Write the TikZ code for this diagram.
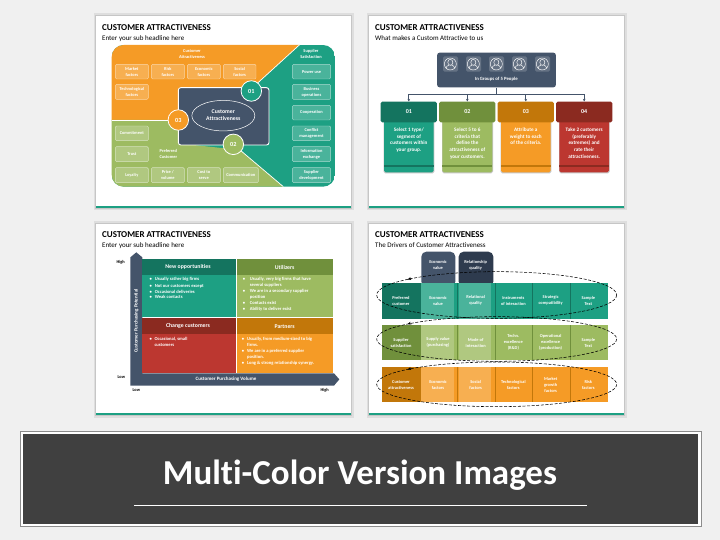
\documentclass[tikz,border=0pt]{standalone}
\usepackage{fontspec}
\setmainfont[Ligatures=NoCommon]{Carlito}
\usetikzlibrary{arrows.meta,calc,shapes.geometric}
\definecolor{bgc}{HTML}{F0F0F0}
\definecolor{shad}{HTML}{C6C6C6}
\definecolor{shadl}{HTML}{DEDEDE}
\definecolor{teal}{HTML}{1DA083}
\definecolor{dteal}{HTML}{14745F}
\definecolor{grn}{HTML}{9DBB61}
\definecolor{dgrn}{HTML}{70903C}
\definecolor{org}{HTML}{F59B26}
\definecolor{dorg}{HTML}{C2770A}
\definecolor{rd}{HTML}{BC3730}
\definecolor{drd}{HTML}{8B2A20}
\definecolor{slate}{HTML}{44546A}
\definecolor{dslate}{HTML}{2E3B4E}
\definecolor{bann}{HTML}{404040}
\newcommand\fs[1]{\fontsize{#1}{#1}\selectfont}
\newcommand\lsp[2]{\fontsize{#1}{#2}\selectfont}
\tikzset{
  slidett/.style={anchor=west,inner sep=0pt,font=\bfseries\fs{9},text=black},
  slidesub/.style={anchor=west,inner sep=0pt,font=\fs{7},text=black},
  chip/.style={fill=white,fill opacity=.2,draw=white,draw opacity=.55,line width=.4pt,rounded corners=1.2pt,text opacity=1},
  chiptxt/.style={font=\bfseries\lsp{4.4}{6},text=white,align=center,inner sep=0pt},
  wtxt/.style={font=\bfseries\lsp{4.8}{6},text=white,align=center,inner sep=0pt},
  numc/.style={circle,draw=white,line width=.8pt,minimum size=20.5pt,inner sep=0pt,text=white,font=\bfseries\fs{6.2}},
  bodytxt/.style={font=\bfseries\lsp{5.2}{6.85},text=white,align=center,inner sep=0pt,anchor=north},
  headbox/.style={rounded corners=1.6pt,minimum width=56.3pt,minimum height=20.7pt,inner sep=0pt,text=white,font=\bfseries\fs{6}},
  conn/.style={draw=slate,line width=.7pt},
  connar/.style={conn,-{Stealth[length=2.6pt,width=2.6pt]}},
  quadhead/.style={font=\bfseries\fs{5.8},text=white,inner sep=0pt},
  li/.style={anchor=west,font=\bfseries\fs{4.6},text=white,inner sep=0pt},
  axl/.style={font=\bfseries\fs{4.4},text=black,inner sep=0pt},
  axw/.style={font=\bfseries\fs{5},text=white,inner sep=0pt},
  dashloop/.style={draw=black,line width=.55pt,dash pattern=on 3pt off 1.6pt},
  loopar/.style={draw=black,line width=.55pt,-{Stealth[length=3.4pt,width=3pt]}},
  celltxt/.style={font=\bfseries\lsp{4.4}{6},text=white,align=center,inner sep=0pt},
}
\newcommand\slidebg[4]{%
  \fill[shadl] (#1-2.5,#2-2.5) rectangle (#3+2.5,#4+2.5);
  \fill[shad] (#1-1.2,#2-1.2) rectangle (#3+1.2,#4+1.2);
  \fill[white] (#1,#2) rectangle (#3,#4);
  \fill[teal] (#1,#4-2) rectangle (#3,#4);
}
\newcommand\cbox[6]{\path[chip] (#2,#3) rectangle (#4,#5); \path (#2,#3) -- (#4,#5) node[midway,chiptxt] (#1) {#6};}
\newcommand\person[1]{%
  \begin{scope}[shift={#1}]
    \fill[white,opacity=.18,rounded corners=1.5pt] (-22,-23) rectangle (23,23);
    \draw[white,line width=.45pt] (0,0) circle (18);
    \draw[white,line width=.45pt] (0,-5) ellipse (7.5 and 9);
    \draw[white,line width=.45pt] (-13,12) .. controls (-12,5) and (-8,6) .. (-4,4);
    \draw[white,line width=.45pt] (13,12) .. controls (12,5) and (8,6) .. (4,4);
  \end{scope}}
\begin{document}
\begin{tikzpicture}[x=1pt,y=-1pt]
\useasboundingbox (0,0) rectangle (720,540);
\fill[bgc] (0,0) rectangle (720,540);
\slidebg{96}{16}{351}{208}
\slidebg{369}{16}{624}{208}
\slidebg{96}{224}{351}{415}
\slidebg{369}{224}{624}{415}

% ---------- slide 1
\begin{scope}[shift={(90,10)},x=.33333pt,y=-.33333pt]
\node[slidett] (t1) at (36,52) {CUSTOMER ATTRACTIVENESS};
\node[slidesub] (s1) at (36,85) {Enter your sub headline here};
\begin{scope}
  \clip[rounded corners=12pt] (65,105) rectangle (735,530);
  \fill[teal] (65,105) rectangle (735,530);
  \fill[org] (65,105) -- (628,105) -- (480,240) -- (265,240) -- (265,330) -- (65,330) -- cycle;
  \fill[grn] (65,330) -- (265,330) -- (265,400) -- (450,420) -- (580,530) -- (65,530) -- cycle;
  \draw[white,line width=.7pt] (65,330) -- (265,330);
  \draw[white,line width=.7pt] (628,105) -- (480,240);
  \draw[white,line width=.7pt] (450,420) -- (580,530);
\end{scope}
\node[chiptxt] (lca) at (306,132) {Customer\\Attractiveness};
\node[chiptxt] (lss) at (663,132) {Supplier\\Satisfaction};
\node[chiptxt] (lpc) at (235,432) {Preferred\\Customer};
\cbox{a1}{76}{163}{175}{207}{Market\\factors}
\cbox{a2}{184}{163}{283}{207}{Risk\\factors}
\cbox{a3}{292}{163}{391}{207}{Economic\\factors}
\cbox{a4}{400}{163}{498}{207}{Social\\factors}
\cbox{a5}{76}{223}{175}{268}{Technological\\factors}
\cbox{g1}{76}{348}{175}{392}{Commitment}
\cbox{g2}{76}{410}{175}{455}{Trust}
\cbox{g3}{76}{473}{175}{518}{Loyalty}
\cbox{g4}{184}{473}{283}{518}{Price /\\volume}
\cbox{g5}{292}{473}{391}{518}{Cost to\\serve}
\cbox{g6}{400}{473}{505}{518}{Communication}
\cbox{b1}{607}{163}{722}{207}{Power use}
\cbox{b2}{607}{223}{722}{268}{Business\\operations}
\cbox{b3}{607}{286}{722}{330}{Cooperation}
\cbox{b4}{607}{348}{722}{392}{Conflict\\management}
\cbox{b5}{607}{410}{722}{455}{Information\\exchange}
\cbox{b6}{607}{473}{722}{518}{Supplier\\development}
\draw[fill=slate,draw=white,line width=.9pt,rounded corners=2.5pt] (265,233) rectangle (537,405);
\node[draw=white,ellipse,line width=.5pt,minimum width=63pt,minimum height=30.5pt,inner sep=0pt] (ca) at (400,317) {};
\node[font=\bfseries\lsp{5.8}{7.4},text=white,align=center,inner sep=0pt] (cat) at (400,316) {Customer\\Attractiveness};
\node[numc,fill=teal] (n1) at (484,243) {01};
\node[numc,fill=grn] (n2) at (430,403) {02};
\node[numc,fill=org] (n3) at (265,330) {03};
\end{scope}

% ---------- slide 2
\begin{scope}[shift={(360,10)},x=.33333pt,y=-.33333pt]
\node[slidett] (t2) at (45,52) {CUSTOMER ATTRACTIVENESS};
\node[slidesub] (s2) at (45,85) {What makes a Custom Attractive to us};
\node[fill=slate,rounded corners=2.5pt,minimum width=118.7pt,minimum height=34.7pt,inner sep=0pt] (hdr) at (409.5,180) {};
\person{(271,162)}
\person{(340,162)}
\person{(409,162)}
\person{(478,162)}
\person{(547,162)}
\node[wtxt] (hl) at (409,207) {In Groups of 5 People};
\foreach \xa/\xb/\co in {72/221/teal,247/397/grn,423/572/org,598/747/rd}{
  \fill[shad,rounded corners=1.6pt] (\xa-1,330) rectangle (\xb+2,490);
  \fill[\co,rounded corners=1.6pt] (\xa,330) rectangle (\xb,487);
}
\fill[dteal] (72,465) rectangle (221,471);
\fill[dgrn] (247,465) rectangle (397,471);
\fill[dorg] (423,465) rectangle (572,471);
\fill[drd] (598,465) rectangle (747,471);
\node[headbox,fill=dteal] (h1) at (146.5,306) {01};
\node[headbox,fill=dgrn] (h2) at (322,306) {02};
\node[headbox,fill=dorg] (h3) at (497.5,306) {03};
\node[headbox,fill=drd] (h4) at (672.5,306) {04};
\coordinate (bus) at (409.5,252);
\draw[conn] (hdr.south) -- (bus);
\draw[connar] (bus) -| (h1.north);
\draw[connar] (bus) -| (h2.north);
\draw[connar] (bus) -| (h3.north);
\draw[connar] (bus) -| (h4.north);
\node[bodytxt] (x1) at (146.5,352) {Select 1 type/\\segment of\\customers within\\your group.};
\node[bodytxt] (x2) at (322,352) {Select 5 to 6\\criteria that\\define the\\attractiveness of\\your customers.};
\node[bodytxt] (x3) at (497.5,352) {Attribute a\\weight to each\\of the criteria.};
\node[bodytxt] (x4) at (672.5,352) {Take 2 customers\\(preferably\\extremes) and\\rate their\\attractiveness.};
\end{scope}

% ---------- slide 3
\begin{scope}[shift={(90,215)},x=.33333pt,y=-.33333pt]
\node[slidett] (t3) at (36,58) {CUSTOMER ATTRACTIVENESS};
\node[slidesub] (s3) at (36,91) {Enter your sub headline here};
\fill[slate] (121,127) -- (139,112) -- (157,127) -- (157,475) -- (732,475) -- (748,493) -- (732,512) -- (121,512) -- cycle;
\fill[teal] (157,131) rectangle (438,305);
\fill[dteal] (157,131) rectangle (438,180);
\fill[grn] (442,131) rectangle (728,305);
\fill[dgrn] (442,131) rectangle (728,180);
\fill[rd] (157,308) rectangle (438,474);
\fill[drd] (157,308) rectangle (438,357);
\fill[org] (442,308) rectangle (728,474);
\fill[dorg] (442,308) rectangle (728,357);
\node[quadhead] (q1) at (294,156) {New opportunities};
\node[quadhead] (q2) at (584,156) {Utilizers};
\node[quadhead] (q3) at (294,334) {Change customers};
\node[quadhead] (q4) at (584,334) {Partners};
\node[li] (l1) at (178,194) {\makebox[5.3pt][l]{•}Usually rather big firms};
\node[li] (l2) at (178,213) {\makebox[5.3pt][l]{•}Not our customers except};
\node[li] (l3) at (178,230) {\makebox[5.3pt][l]{•}Occasional deliveries};
\node[li] (l4) at (178,247) {\makebox[5.3pt][l]{•}Weak contacts};
\node[li] (r1) at (458,194) {\makebox[7pt][l]{•}Usually, very big firms that have};
\node[li] (r2) at (479,212) {several suppliers};
\node[li] (r3) at (458,230) {\makebox[7pt][l]{•}We are in a secondary supplier};
\node[li] (r4) at (479,247) {position};
\node[li] (r5) at (458,265) {\makebox[7pt][l]{•}Contacts exist};
\node[li] (r6) at (458,283) {\makebox[7pt][l]{•}Ability to deliver exist};
\node[li] (c1) at (178,373) {\makebox[5pt][l]{•}Occasional, small};
\node[li] (c2) at (193,391) {customers};
\node[li] (p1) at (455,373) {\makebox[5.3pt][l]{•}Usually, from medium-sized to big};
\node[li] (p2) at (471,391) {firms.};
\node[li] (p3) at (455,409) {\makebox[5.3pt][l]{•}We are in a preferred supplier};
\node[li] (p4) at (471,426) {position.};
\node[li] (p5) at (455,444) {\makebox[5.3pt][l]{•}Long \& strong relationship synergy.};
\node[axl] (a1) at (92,143) {High};
\node[axl] (a2) at (94,486) {Low};
\node[axl] (a3) at (139,525) {Low};
\node[axl] (a4) at (704,525) {High};
\node[axw,rotate=90] (a5) at (139,318) {Customer Purchasing Potential};
\node[axw] (a6) at (408,493) {Customer Purchasing Volume};
\end{scope}

% ---------- slide 4
\begin{scope}[shift={(360,215)},x=.33333pt,y=-.33333pt]
\node[slidett] (t4) at (45,58) {CUSTOMER ATTRACTIVENESS};
\node[slidesub] (s4) at (45,91) {The Drivers of Customer Attractiveness};
\fill[slate,rounded corners=5pt] (184,110) rectangle (286,215);
\fill[dslate,rounded corners=5pt] (296,110) rectangle (400,215);
\node[celltxt] (e1) at (234,150) {Economic\\value};
\node[celltxt] (e2) at (347,150) {Relationship\\quality};
\foreach \yt/\yb/\co/\dk in {204/311/teal/dteal,330/436/grn/dgrn,456/562/org/dorg}{
  \fill[\co] (67,\yt) rectangle (745,\yb);
  \fill[\dk] (67,\yt) rectangle (183,\yb);
  \fill[white,opacity=.2] (184,\yt) rectangle (283,\yb);
  \fill[white,opacity=.2] (296,\yt) rectangle (394,\yb);
  \foreach \xs in {292,405,517,630}{\fill[\dk] (\xs,\yt) rectangle (\xs+3,\yb);}
}
\node[celltxt] (r11) at (123,257) {Preferred\\customer};
\node[celltxt] (r12) at (234,257) {Economic\\value};
\node[celltxt] (r13) at (347,257) {Relational\\quality};
\node[celltxt] (r14) at (460,257) {Instruments\\of interaction};
\node[celltxt] (r15) at (572,257) {Strategic\\compatibility};
\node[celltxt] (r16) at (685,257) {Sample\\Text};
\node[celltxt] (r21) at (123,383) {Supplier\\satisfaction};
\node[celltxt] (r22) at (234,383) {Supply value\\(purchasing)};
\node[celltxt] (r23) at (347,383) {Mode of\\interaction};
\node[celltxt] (r24) at (460,383) {Techn.\\excellence\\(R\&D)};
\node[celltxt] (r25) at (572,383) {Operational\\excellence\\(production)};
\node[celltxt] (r26) at (685,383) {Sample\\Text};
\node[celltxt] (r31) at (123,509) {Customer\\attractiveness};
\node[celltxt] (r32) at (234,509) {Economic\\factors};
\node[celltxt] (r33) at (347,509) {Social\\factors};
\node[celltxt] (r34) at (460,509) {Technological\\factors};
\node[celltxt] (r35) at (572,509) {Market\\growth\\factors};
\node[celltxt] (r36) at (685,509) {Risk\\factors};
\draw[dashloop] (410,240) ellipse (360 and 70);
\draw[dashloop] (410,372) ellipse (360 and 67);
\draw[dashloop] (410,508) ellipse (360 and 67);
\foreach \yy in {193,327,463}{
  \draw[loopar] (152,\yy-2.5) -- (143,\yy+.5);
}
\end{scope}

% ---------- banner
\draw[draw=gray!90,fill=white,line width=1pt] (20,431) rectangle (701,526);
\fill[bann] (23,433.5) rectangle (698,523.5);
\node[font=\bfseries\fs{35},text=white,inner sep=0pt] (bt) at (360,475) {Multi-Color Version Images};
\coordinate (la) at (134,505);
\coordinate (lb) at (587,505);
\draw[white,line width=.8pt] (la) -- (lb);
\end{tikzpicture}
\end{document}
